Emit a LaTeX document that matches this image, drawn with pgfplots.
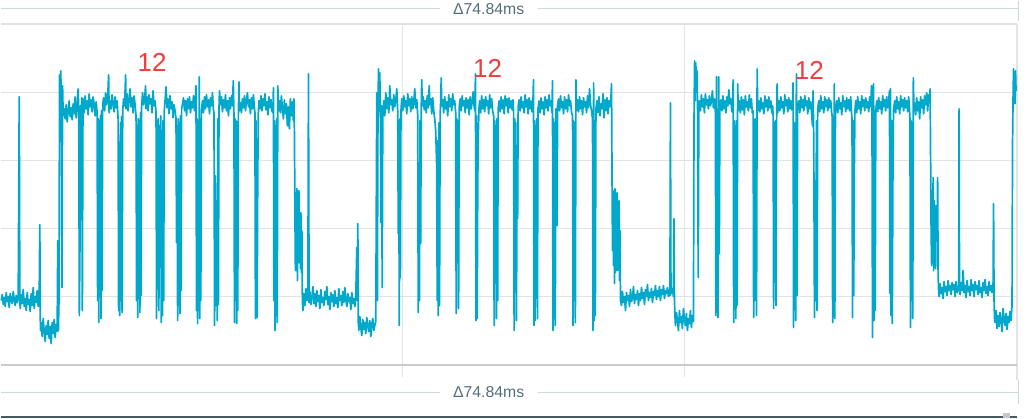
\documentclass[border=0pt]{standalone}
\usepackage{pgfplots}
\pgfplotsset{compat=1.18}
\usepackage{fontspec}
\setmainfont{Liberation Sans}
\definecolor{sig}{HTML}{00A8CC}
\definecolor{gridc}{HTML}{E3E3E3}
\definecolor{topc}{HTML}{E2E2E2}
\definecolor{botc}{HTML}{CACACA}
\definecolor{dl}{HTML}{CFD8DC}
\definecolor{dtext}{HTML}{546E7A}
\definecolor{darkl}{HTML}{455A64}
\definecolor{redl}{HTML}{F23C3C}
\begin{document}
\begin{tikzpicture}
\begin{axis}[scale only axis, width=1035pt, height=418pt,
  xmin=0, xmax=1035, ymin=0, ymax=418, y dir=reverse,
  axis line style={draw=none}, xtick=\empty, ytick=\empty, clip=false]
% grid
\draw[gridc, line width=1.3pt] (0,92)--(1017,92) (0,160)--(1017,160) (0,228)--(1017,228) (0,296)--(1017,296);
\draw[gridc, line width=1.3pt] (402,23)--(402,377) (684,23)--(684,377) (1017,23)--(1017,380);
\draw[topc, line width=2pt] (0,23)--(1017,23);
\draw[botc, line width=2pt] (0,364.5)--(1017,364.5);
% delta bars
\draw[dl, line width=1pt] (0,8)--(439,8) (537,8)--(1018,8) (1018,0)--(1018,20);
\draw[dl, line width=1pt] (0,392)--(439,392) (537,392)--(1018,392) (1018,380)--(1018,404);
\node[text=dtext, font=\fontsize{15.8}{18}\selectfont] at (488,8) {Δ74.84ms};
\node[text=dtext, font=\fontsize{15.8}{18}\selectfont] at (488,392) {Δ74.84ms};
\draw[darkl, line width=2.5pt] (0,416.5)--(1017,416.5);
\fill[gray!45] (1003,413) rectangle (1010,418);
% signal
\addplot[sig, line width=1.7pt, no marks, line join=round] coordinates {
(0,300)(1,294)(2,304)(3,297)(4,306)(5,292)(6,301)(7,296)(8,307)(9,293)(10,300)(11,303)(12,291)(13,299)(14,305)(15,295)(16,302)(17,297)(18,96)(18.6,300)(19,308)(20,294)(21,303)(22,289)(23,306)(24,298)(25,310)(26,292)(27,304)(28,299)(29,311)(30,293)(31,305)(32,287)(33,308)(34,296)(35,302)(36,290)(37,306)(38,298)
(38.6,224)(39.2,330)
(40,322)(41,336)(42,318)(43,331)(44,341)(45,325)(46,334)(47,320)(48,338)(49,326)(50,343)(51,322)(52,333)(53,319)(54,337)(55,324)(56,331)
(56.6,240)(57.2,330)(57.8,300)(58.4,74)(59,120)(59.6,70)(60.2,110)(60.8,287)(61.4,85)(62,115)
(63,108)(64,118)(65,104)(66,121)(67,110)(68,100)(69,116)(70,107)(71,119)(72,103)(73,113)(74,96)(75,117)(76,105)(77,88)
(77.6,112)(78.2,315)(78.8,245)(79.4,105)(80,120)(80.6,97)(81.2,310)(81.8,108)
(82,98)(83,112)(84,95)(85,108)(86,100)(87,114)(88,93)(89,106)(90,99)(91,111)(92,96)(93,104)(94,115)(95,101)
(96,112)(96.5,300)(97.1,118)(97.6,322)(98.2,120)(98.7,296)(99.3,115)(99.8,318)(100.4,110)(101,290)(101.5,105)
(102.5,97)(103.5,110)(104.5,92)(105.5,104)(106.5,99)(107.5,74)(108,112)(109,100)(110,108)(111,94)(112,103)(113,111)(114,96)(115,107)(116,100)
(117,118)(117.5,310)(118.1,167)(118.7,315)(119.3,122)(119.8,300)(120.4,116)(121,312)(121.6,110)
(122.5,98)(123.5,105)(124.5,74)(125,108)(126,93)(127,110)(128,100)(129,88)(130,106)(131,97)(132,112)(133,95)(134,104)
(135,116)(135.5,300)(136.1,125)(136.6,317)(137.2,118)(137.7,296)(138.3,120)(138.8,312)(139.4,112)(140,295)(140.5,106)
(141.5,92)(142.5,104)(143.5,99)(144.5,85)(145,108)(146,96)(147,110)(148,94)(149,103)(150,98)(151,112)(152,90)(153,105)(154,100)
(155,112)(155.5,318)(156.1,120)(156.6,267)(157.2,118)(157.8,310)(158.4,125)(159,257)(159.6,115)(160.2,322)(160.8,130)(161.4,315)(162,120)(162.6,300)(163.2,110)
(164,100)(165,86)(166,107)(167,98)(168,113)(169,95)(170,108)(171,101)(172,117)(173,104)(174,110)
(175,118)(175.5,242)(176.1,125)(176.6,320)(177.2,118)(177.7,305)(178.3,122)(178.9,313)(179.5,115)(180.1,290)(180.6,108)
(181.5,103)(182.5,97)(183.5,110)(184.5,100)(185.5,115)(186.5,98)(187.5,108)(188.5,96)(189.5,112)(190.5,101)(191.5,107)(192.5,95)(193.5,110)(194.3,102)
(195,85)(195.5,310)(196,118)(196.6,323)(197.2,120)(197.7,290)(198.2,76)(198.7,318)(199.3,118)(199.8,300)(200.4,110)
(201.5,100)(202.5,112)(203.5,96)(204.5,108)(205.5,94)(206.5,106)(207.5,99)(208.5,113)(209.5,97)(210.5,105)(211.5,92)(212.3,108)
(213,112)(213.6,325)(214.2,175)(215,305)(215.6,200)(216.2,320)(216.8,118)(217.4,304)(218,108)(218.5,90)
(219.5,104)(220.5,96)(221.5,111)(222.5,99)(223.5,107)(224.5,94)(225.5,110)(226.5,100)(227.5,115)(228.5,97)(229.5,108)(230.5,95)(231.5,105)(232.3,80)
(233,115)(233.5,322)(234.1,118)(234.6,300)(235.2,120)(235.7,323)(236.3,125)(236.8,310)(237.4,115)(238,81)(238.5,110)
(239.5,102)(240.5,112)(241.5,98)(242.5,107)(243.5,95)(244.5,110)(245.5,100)(246.5,92)(247.5,106)(248.5,99)(249.5,113)(250.5,97)(251.5,108)(252.5,94)(253.3,105)
(254,112)(254.5,318)(255.1,120)(255.6,200)(256.2,317)(256.8,175)(257.4,112)(258,100)
(259,108)(260,95)(261,110)(262,98)(263,105)(264,93)(265,109)(266,101)(267,114)(268,96)(269,107)(270,99)(271,110)
(272,112)(272.5,87)(273,300)(273.6,120)(274.1,330)(274.7,125)(275.2,315)(275.8,118)(276.3,322)(276.9,85)(277.5,110)
(278.5,100)(279.5,112)(280.5,95)(281.5,108)(282.5,118)(283.5,99)(284.5,113)(285.5,103)(286.5,125)(287.5,106)(288.5,128)(289.5,98)(290.5,115)(291.5,101)(292.5,120)(293,98)
(293.5,130)(294,205)(294.5,270)(295,192)(295.5,255)(296,188)(296.5,280)(297,200)(297.5,262)(298,190)(298.5,245)(299,215)(299.5,268)(300,212)(300.5,272)(301,230)(301.5,300)
(302,310)(303,293)(304,305)(305,288)(306,300)(307,296)(307.6,73)(308.2,302)(309,291)(310,304)(311,297)(312,286)(313,303)(314,293)(315,306)(316,290)(317,301)(318,295)(319,308)(320,289)(321,302)(322,297)(323,305)(324,291)(325,299)(326,286)(327,304)(328,296)(329,309)(330,292)(331,301)(332,294)(333,306)(334,290)(335,303)(336,297)(337,307)(338,288)(339,300)(340,295)(341,305)(342,291)(343,302)(344,287)(345,299)(346,306)(347,293)(348,301)(349,297)(350,309)(351,292)(352,303)(353,298)(354,306)(355,294)
(356,247)(356.5,300)(357,223)(357.5,322)
(358,330)(359,316)(360,327)(361,335)(362,319)(363,329)(364,322)(365,333)(366,317)(367,326)(368,331)(369,320)(370,336)(371,324)(372,318)(373,330)(374,325)(375,321)
(376,92)(376.6,300)(377.2,100)(377.8,68)(378.4,110)(379,72)(379.6,120)(380.2,222)(380.8,105)(381.4,287)(382,112)
(383,100)(384,115)(385,92)(386,108)(387,97)(388,112)(389,85)(390,104)(391,99)(392,110)(393,94)(394,106)(395,100)(396,88)
(397,112)(397.5,233)(398,120)(398.5,325)(399.1,118)(399.6,277)(400.2,110)
(401,98)(402,110)(403,95)(404,106)(405,100)(406,113)(407,93)(408,105)(409,98)(410,111)(411,96)(412,108)(413,102)(414,88)(415,107)(416,99)
(417,115)(417.5,312)(418.1,162)(418.7,300)(419.3,120)(419.9,243)(420.5,108)(421,79)(421.5,105)
(422.5,96)(423.5,109)(424.5,100)(425.5,112)(426.5,95)(427.5,107)(428.5,85)(429,104)(430,98)(431,113)(432,97)(433,110)(434,118)(435,130)(436,167)
(436.5,300)(437,140)(437.6,315)(438.2,122)(438.8,305)(439.4,115)(440,100)(440.5,77)(441,105)
(442,99)(443,112)(444,96)(445,108)(446,101)(447,115)(448,94)(449,106)(450,98)(451,110)(452,93)(453,104)(454,100)
(455,112)(455.5,313)(456.1,118)(456.7,262)(457.3,120)(457.9,308)(458.5,106)
(459.5,98)(460.5,110)(461.5,95)(462.5,105)(463.5,100)(464.5,112)(465.5,97)(466.5,107)(467.5,99)(468.5,114)(469.5,96)(470.5,108)(471.5,101)(472.5,91)(473.5,106)(474.2,110)
(474.8,73)(475.3,320)(475.9,115)(476.5,318)(477.1,180)(477.7,130)(478.3,108)
(479,100)(480,112)(481,95)(482,108)(483,99)(484,111)(485,96)(486,105)(487,100)(488,113)(489,94)(490,107)(491,98)(492,110)
(493,115)(493.5,325)(494.1,120)(494.6,232)(495.2,125)(495.8,318)(496.4,118)(497,300)(497.5,108)
(498.5,100)(499.5,111)(500.5,96)(501.5,108)(502.5,99)(503.5,113)(504.5,95)(505.5,105)(506.5,98)(507.5,112)(508.5,97)(509.5,107)(510.5,100)(511.5,109)(512.3,99)
(513,112)(513.5,330)(514.1,118)(514.6,290)(515.2,122)(515.8,320)(516.4,187)(517,218)(517.5,106)
(518.5,99)(519.5,110)(520.5,96)(521.5,107)(522.5,101)(523.5,112)(524.5,94)(525.5,106)(526.5,99)(527.5,113)(528.5,97)(529.5,108)(530.5,100)(531.5,111)(532.4,98)
(532.9,79)(533.4,325)(534,120)(534.5,320)(535.1,125)(535.6,273)(536.2,118)(536.8,318)(537.4,108)
(538.5,100)(539.5,112)(540.5,97)(541.5,108)(542.5,101)(543.5,114)(544.5,96)(545.5,107)(546.5,99)(547.5,110)(548.5,94)(549.5,105)(550.5,100)(551.4,112)
(551.9,80)(552.4,330)(553,118)(553.5,318)(554.1,122)(554.7,325)(555.3,108)(556,115)(556.5,225)(557,104)
(558,98)(559,110)(560,95)(561,107)(562,101)(563,113)(564,96)(565,108)(566,99)(567,111)(568,94)(569,105)(570,100)(571,112)
(572,115)(572.5,325)(573.1,120)(573.6,300)(574.2,122)(574.8,322)(575.4,79)(575.9,110)
(577,99)(578,111)(579,96)(580,108)(581,100)(582,114)(583,97)(584,106)(585,101)(586,112)(587,95)(588,107)(589,88)(590,104)(591,110)
(592,118)(592.5,330)(593.1,82)(593.6,320)(594.2,120)(594.8,315)(595.4,108)
(596.5,100)(597.5,112)(598.5,96)(599.5,115)(600.5,103)(601.5,108)(602.5,93)(603.5,117)(604.5,99)(605.5,110)(606.5,97)(607.5,113)(608.5,100)(609.5,106)(610.5,95)(611,83)
(611.5,173)(612,250)(612.5,190)(613,265)(613.5,200)(614,283)(614.5,188)(615,272)(615.5,208)(616,258)(616.5,192)(617,270)(617.5,215)(618,262)(618.5,200)(619,280)(619.5,230)(620,300)
(621,305)(622,291)(623,302)(624,296)(625,310)(626,292)(627,300)(628,295)(629,306)(630,289)(631,301)(632,297)(633,286)(634,303)(635,294)(636,299)(637,290)(638,305)(639,293)(640,300)(641,287)(642,298)(643,292)(644,304)(645,289)(646,296)(647,284)(648,300)(649,292)(650,297)(651,288)(652,302)(653,291)(654,295)(655,285)(656,299)(657,290)(658,296)(659,286)(660,300)(661,289)(662,294)(663,285)(664,298)(665,290)(666,293)(667,287)(668,296)(669,289)
(669.5,295)(670,102)(670.5,290)(671,293)(672,288)(673,296)(673.5,218)(674,300)(674.5,315)
(675,325)(676,312)(677,320)(678,330)(679,310)(680,322)(681,316)(682,328)(683,308)(684,319)(685,325)(686,313)(687,330)(688,318)(689,323)(690,310)(691,327)(692,315)(693,321)
(693.6,120)(694.2,60)(694.8,100)(695.4,62)(696,90)(696.6,70)(697.2,110)(697.8,277)(698.4,112)
(699,100)(700,110)(701,94)(702,106)(703,98)(704,112)(705,93)(706,104)(707,99)(708,108)(709,95)(710,105)(711,101)(712,90)(713,107)(714,98)
(715,112)(715.5,315)(716.1,76)(716.6,177)(717.2,120)(717.7,317)(718.3,76)(718.9,253)(719.5,106)
(720.5,99)(721.5,110)(722.5,95)(723.5,108)(724.5,100)(725.5,112)(726.5,96)(727.5,105)(728.5,89)(729.5,103)(730.5,98)(731.5,111)(732.3,100)
(732.8,79)(733.3,322)(733.9,120)(734.4,293)(735,125)(735.5,318)(736.1,120)(736.7,305)(737.3,83)(737.9,110)
(739,100)(740,112)(741,96)(742,109)(743,99)(744,114)(745,95)(746,106)(747,101)(748,110)(749,94)(750,107)(751,98)(752,112)
(752.8,110)(753.3,317)(753.9,120)(754.4,300)(755,118)(755.6,233)(756.2,315)(756.8,68)(757.4,110)
(758.5,100)(759.5,111)(760.5,97)(761.5,108)(762.5,102)(763.5,113)(764.5,95)(765.5,106)(766.5,99)(767.5,110)(768.5,96)(769.5,107)(770.5,100)(771.5,112)(772.3,105)
(772.8,115)(773.3,308)(773.9,122)(774.4,243)(775,120)(775.6,305)(776.2,125)(776.8,83)(777.4,112)
(778.5,100)(779.5,110)(780.5,96)(781.5,107)(782.5,101)(783.5,113)(784.5,94)(785.5,105)(786.5,99)(787.5,111)(788.5,97)(789.5,108)(790.5,100)(791.5,109)(792.3,100)
(792.8,82)(793.3,327)(793.9,122)(794.4,300)(795,125)(795.5,320)(796.1,73)(796.7,295)(797.3,110)
(798.5,100)(799.5,112)(800.5,96)(801.5,107)(802.5,99)(803.5,110)(804.5,95)(805.5,105)(806.5,100)(807.5,113)(808.5,97)(809.5,108)(810.5,101)(811.5,115)(812.2,125)
(812.8,90)(813.5,140)(814.2,317)(814.8,180)(815.5,300)(816.2,120)(816.8,310)(817.4,108)
(818.5,100)(819.5,111)(820.5,95)(821.5,108)(822.5,101)(823.5,112)(824.5,96)(825.5,106)(826.5,99)(827.5,110)(828.5,97)(829.5,107)(830.5,100)(831.4,112)
(831.9,115)(832.4,322)(833,122)(833.5,310)(834.1,83)(834.6,318)(835.2,110)
(836.5,100)(837.5,112)(838.5,97)(839.5,108)(840.5,102)(841.5,114)(842.5,95)(843.5,106)(844.5,100)(845.5,111)(846.5,97)(847.5,108)(848.5,99)(849.5,110)(850.5,96)(851.3,112)
(851.8,118)(852.3,317)(852.9,120)(853.5,295)(854.1,170)(854.7,110)
(855.5,100)(856.5,112)(857.5,96)(858.5,108)(859.5,101)(860.5,113)(861.5,95)(862.5,106)(863.5,99)(864.5,110)(865.5,97)(866.5,107)(867.5,101)(868.5,111)(869.5,96)(870.5,106)(871.3,85)
(871.8,115)(872.3,337)(872.9,120)(873.4,83)(873.9,320)(874.5,125)(875,310)(875.6,110)
(876.5,100)(877.5,111)(878.5,97)(879.5,108)(880.5,101)(881.5,113)(882.5,95)(883.5,106)(884.5,99)(885.5,110)(886.5,96)(887.5,107)(888.5,100)(889.3,90)
(889.8,293)(890.3,88)(890.9,315)(891.5,120)(892.1,323)(892.7,182)(893.3,110)
(894.5,100)(895.5,112)(896.5,96)(897.5,108)(898.5,101)(899.5,113)(900.5,95)(901.5,106)(902.5,99)(903.5,110)(904.5,97)(905.5,107)(906.5,100)(907.5,111)(908.5,96)(909.3,108)
(909.8,118)(910.3,327)(910.9,120)(911.4,300)(912,122)(912.6,318)(913.2,77)(913.8,110)
(914.5,102)(915.5,114)(916.5,97)(917.5,110)(918.5,101)(919.5,118)(920.5,96)(921.5,107)(922.5,99)(923.5,113)(924.5,95)(925.5,104)(926.5,92)(927.5,110)(928.5,94)(929.5,102)(930,88)
(930.5,160)(931,230)(931.5,265)(932,190)(932.5,250)(933,177)(933.5,270)(934,200)(934.5,255)(935,215)(935.5,268)(936,205)(936.5,240)(937,230)(937.5,177)(938,275)(938.5,290)
(939,296)(940,283)(941,293)(942,287)(943,298)(944,281)(945,291)(946,286)(947,295)(948,280)(949,290)(950,285)(951,294)(952,282)(953,289)(954,284)(955,296)(956,281)(957,292)(958,286)(958.6,290)(959,108)(959.4,288)(960,294)(961,282)(962,290)(963,270)(964,292)(965,285)(966,297)(967,280)(968,291)(969,286)(970,295)(971,279)(972,290)(973,284)(974,296)(975,281)(976,289)(977,285)(978,294)(979,280)(980,292)(981,287)(982,297)(983,282)(984,290)(985,279)(986,293)(987,286)(988,295)(989,281)(990,290)(991,285)(992,292)
(993,288)(993.5,203)(994,300)(994.5,318)
(995,322)(996,310)(997,328)(998,315)(999,326)(1000,312)(1001,320)(1002,331)(1003,308)(1004,318)(1005,325)(1006,313)(1007,329)(1008,316)(1009,322)(1010,311)(1011,320)(1012,305)
(1012.5,143)(1013,100)(1013.5,68)(1014,95)(1014.5,75)(1015,103)(1015.5,70)(1016,90)
};
\node[text=redl, font=\fontsize{26}{30}\selectfont] at (151,62) {12};
\node[text=redl, font=\fontsize{26}{30}\selectfont] at (487,68) {12};
\node[text=redl, font=\fontsize{26}{30}\selectfont] at (809,70) {12};
\end{axis}
\end{tikzpicture}
\end{document}
